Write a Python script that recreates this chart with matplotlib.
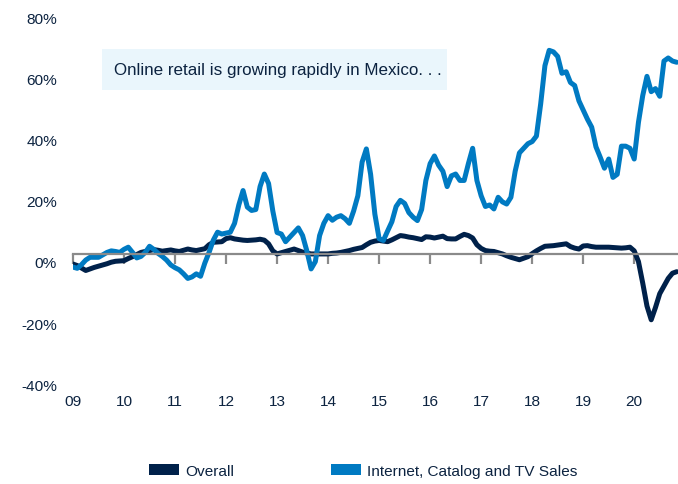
import numpy as np
import matplotlib.pyplot as plt
from matplotlib import font_manager as fm
from matplotlib.patches import Patch, Rectangle
from matplotlib.transforms import ScaledTranslation

# monthly y/y growth, Jan 2009 .. Nov 2020 (%)
overall = [
    -3.3, -3.8, -4.6, -5.4, -4.9, -4.4, -4.0, -3.6, -3.2, -2.7, -2.4, -2.3,
    -2.2, -1.5, -0.9, -0.2, 0.5, 0.8, 1.1, 1.4, 1.2, 0.9, 1.1, 1.3,
    1.0, 0.8, 1.2, 1.6, 1.3, 1.1, 1.4, 1.7, 3.0, 3.8, 3.9, 4.0,
    5.0, 5.3, 4.9, 4.7, 4.5, 4.4, 4.5, 4.6, 4.8, 4.5, 3.3, 1.0,
    0.0, 0.4, 0.8, 1.2, 1.6, 1.1, 0.6, 0.3, 0.0, 0.0, 0.0, 0.0,
    0.0, 0.2, 0.3, 0.5, 0.8, 1.1, 1.5, 1.8, 2.1, 3.0, 3.8, 4.2,
    4.4, 4.2, 4.0, 4.6, 5.3, 6.0, 5.8, 5.5, 5.3, 5.0, 4.7, 5.6,
    5.5, 5.2, 5.5, 5.8, 5.0, 4.9, 4.9, 5.7, 6.4, 6.0, 5.2, 3.0,
    1.8, 1.1, 0.9, 0.8, 0.4, 0.0, -0.6, -1.1, -1.5, -1.9, -1.4, -0.9,
    0.1, 1.0, 1.8, 2.5, 2.6, 2.7, 2.9, 3.1, 3.3, 2.4, 1.9, 1.6,
    2.6, 2.7, 2.4, 2.2, 2.2, 2.2, 2.2, 2.1, 2.0, 1.9, 2.0, 2.2,
    1.0, -2.5, -9.5, -17.0, -21.5, -17.5, -13.0, -10.5, -8.0, -6.3, -5.8,
]
internet = [
    -4.3, -4.7, -3.5, -2.0, -1.1, -1.1, -1.1, -0.3, 0.5, 1.0, 0.8, 0.5,
    1.5, 2.2, 0.5, -1.3, -0.8, 0.5, 2.5, 1.5, 0.2, -0.8, -2.0, -3.6,
    -4.5, -5.2, -6.5, -8.0, -7.5, -6.5, -7.3, -3.0, 0.5, 4.5, 7.1, 6.5,
    6.8, 7.1, 10.0, 16.0, 20.7, 15.3, 14.2, 14.5, 22.0, 26.1, 23.0, 14.0,
    7.0, 6.5, 4.0, 5.5, 7.0, 8.5, 6.0, 1.0, -4.9, -2.5, 6.0, 10.0,
    12.5, 11.0, 12.0, 12.5, 11.5, 10.0, 14.0, 19.0, 30.0, 34.3, 26.0, 13.0,
    5.0, 4.4, 7.5, 10.5, 15.5, 17.5, 16.5, 13.5, 12.0, 10.9, 14.5, 24.0,
    29.5, 32.0, 29.0, 27.0, 22.0, 25.5, 26.1, 24.0, 24.0, 29.5, 34.5, 24.0,
    19.0, 15.5, 16.0, 14.7, 18.5, 17.0, 16.3, 18.5, 27.0, 33.0, 34.5, 36.0,
    36.7, 38.5, 49.0, 61.5, 66.5, 66.0, 64.5, 59.0, 59.5, 56.0, 55.0, 50.0,
    47.0, 44.0, 41.4, 35.0, 31.6, 28.0, 31.0, 25.0, 26.0, 35.2, 35.2, 34.5,
    31.0, 43.0, 51.7, 58.0, 53.0, 54.0, 51.5, 63.0, 64.0, 63.0, 62.6,
]
year_labels = ['09', '10', '11', '12', '13', '14', '15', '16', '17', '18', '19', '20']
y_ticks = [-40, -20, 0, 20, 40, 60, 80]
series_names = ['Overall', 'Internet, Catalog and TV Sales']
note = 'Online retail is growing rapidly in Mexico. . .'

navy = '#00214a'
blue = '#007ac2'
text_col = '#0c2340'
grey = '#8a8a8a'

W, H = 678, 485
fig = plt.figure(figsize=(W / 100, H / 100), dpi=100)
renderer = fig.canvas.get_renderer()

# the original uses a condensed face: take the narrowest installed one
# and size it so the note has the same width (327 px)
candidates = [('Roboto', 'normal'), ('Lato', 'normal'), ('Liberation Sans', 'normal'),
              ('Liberation Sans Narrow', 'normal'), ('Noto Sans', 'condensed'),
              ('DejaVu Sans', 'condensed')]
weight = 'medium'
best = None
for fam, stretch in candidates:
    try:
        fm.findfont(fm.FontProperties(family=fam), fallback_to_default=False)
    except Exception:
        continue
    t = fig.text(0, 0, note, fontsize=15.5, family=fam, stretch=stretch, weight=weight)
    w = t.get_window_extent(renderer).width
    t.remove()
    if best is None or w < best[2]:
        best = (fam, stretch, w)
fam, stretch, w = best
k = 327 / w
plt.rcParams['font.family'] = [fam, 'DejaVu Sans']
plt.rcParams['font.stretch'] = stretch
plt.rcParams['font.weight'] = weight

ax = fig.add_axes([73 / W, 1 - 377.4 / H, 605 / W, 367.4 / H])

months = np.arange(len(overall))
ax.plot(months, overall, color=navy, lw=3.6, solid_joinstyle='round', solid_capstyle='round')
ax.plot(months, internet, color=blue, lw=3.6, solid_joinstyle='round', solid_capstyle='round')

ax.set_xlim(0, 142.3)
ax.set_ylim(-40, 80)

for s in ['left', 'right', 'top']:
    ax.spines[s].set_visible(False)
ax.spines['bottom'].set_position(('data', 0))
ax.spines['bottom'].set_color(grey)
ax.spines['bottom'].set_linewidth(1.6)

ax.set_xticks(np.arange(len(year_labels)) * 12)
ax.set_xticklabels(year_labels)
ax.tick_params(axis='x', direction='out', length=7.2, width=1.6, color=grey,
               pad=94, labelsize=14 * k, labelcolor=text_col)

ax.set_yticks(y_ticks)
ax.set_yticklabels([f'{v}%' for v in y_ticks])
ax.tick_params(axis='y', length=0, pad=11.5, labelsize=14 * k, labelcolor=text_col)
shift = ScaledTranslation(0, -8 / 100, fig.dpi_scale_trans)
for lab in ax.get_yticklabels():
    lab.set_transform(lab.get_transform() + shift)

# note box
fig.patches.append(Rectangle((102 / W, 1 - 91 / H), 345 / W, 41 / H,
                             transform=fig.transFigure, facecolor='#eaf6fc',
                             edgecolor='none', zorder=0))
fig.text(114 / W, 1 - 71 / H, note, fontsize=15.5 * k, color=text_col, va='center', ha='left')

handles = [Patch(facecolor=navy), Patch(facecolor=blue)]
fig.legend(handles, series_names, loc='center left', bbox_to_anchor=(143 / W, 1 - 472 / H),
           ncol=2, frameon=False, fontsize=14 * k, labelcolor=text_col,
           handlelength=1.55 / k, handleheight=0.6 / k, handletextpad=0.3 / k,
           columnspacing=5.0 / k, borderaxespad=0, borderpad=0.4)

fig.savefig('out.png', dpi=100)
